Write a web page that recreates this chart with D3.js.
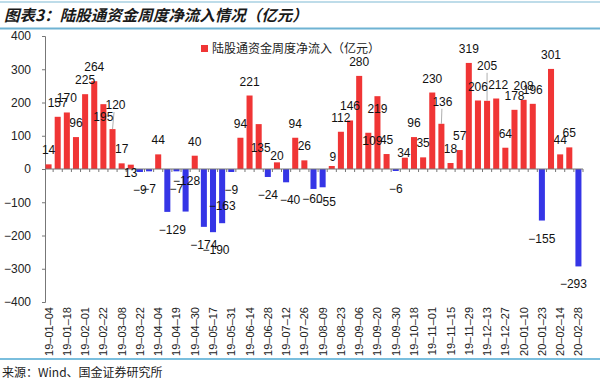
<!DOCTYPE html>
<html>
<head>
<meta charset="utf-8">
<script src="https://cdn.jsdelivr.net/npm/d3@7"></script>
<style>
  body { margin: 0; background: #fff; }
  svg { display: block; }
</style>
</head>
<body>
<svg width="600" height="385"></svg>
<script>
// weekly dates (holiday weeks skipped, as in the source)
const weeks = [
  '19-01-04', '19-01-11', '19-01-18', '19-01-25', '19-02-01', '19-02-15', '19-02-22', '19-03-01',
  '19-03-08', '19-03-15', '19-03-22', '19-03-29', '19-04-04', '19-04-12', '19-04-19', '19-04-26',
  '19-04-30', '19-05-10', '19-05-17', '19-05-24', '19-05-31', '19-06-06', '19-06-14', '19-06-21',
  '19-06-28', '19-07-05', '19-07-12', '19-07-19', '19-07-26', '19-08-02', '19-08-09', '19-08-16',
  '19-08-23', '19-08-30', '19-09-06', '19-09-12', '19-09-20', '19-09-27', '19-09-30', '19-10-11',
  '19-10-18', '19-10-25', '19-11-01', '19-11-08', '19-11-15', '19-11-22', '19-11-29', '19-12-06',
  '19-12-13', '19-12-20', '19-12-27', '20-01-03', '20-01-10', '20-01-17', '20-01-23', '20-02-07',
  '20-02-14', '20-02-21', '20-02-28'
];

// 陆股通资金周度净流入（亿元）
const netFlow = [
  14, 157, 170, 96, 225, 264, 195, 120,
  17, 13, -9, -7, 44, -129, -7, -128,
  40, -174, -190, -163, -9, 94, 221, 135,
  -24, 20, -40, 94, 26, -60, -55, 9,
  112, 146, 280, 109, 219, 45, -6, 34,
  96, 35, 230, 136, 18, 57, 319, 206,
  205, 212, 64, 178, 208, 196, -155, 301,
  44, 65, -293
];

const yTicks = [-400, -300, -200, -100, 0, 100, 200, 300, 400];

const title = '图表3：陆股通资金周度净流入情况（亿元）';
const legendLabel = '陆股通资金周度净流入（亿元）';
const source = '来源：Wind、国金证券研究所';

// hand-placed data labels in the original: [dx, dy] nudges
const labelNudge = {
  '19-02-22': [0, 27], '19-03-01': [3, -10], '19-03-15': [0, 22],
  '19-04-12': [5, 0], '19-04-26': [1, -49], '19-05-17': [3, 0], '19-05-24': [0, -35],
  '19-06-21': [2, 38], '19-07-05': [0, 8], '19-07-12': [4, 0], '19-08-02': [-1, -8],
  '19-08-09': [3, -3], '19-08-16': [1, 5], '19-09-12': [4, 22], '19-09-20': [0, 27],
  '19-10-11': [-1, 9], '19-11-08': [1, -8], '19-12-13': [0, -21], '19-12-20': [2, 0],
  '20-02-28': [-5, 0]
};
const leaderWeeks = ['19-03-01', '19-11-08', '19-12-13'];

const data = weeks.map((w, i) => ({ week: w, value: netFlow[i] }));

const svg = d3.select('svg');
const latin = "'Liberation Sans', Arial, sans-serif";
const cjk = "'Noto Sans CJK SC', sans-serif";

// frame lines and title
svg.append('line')
  .attr('x1', 0).attr('x2', 600).attr('y1', 2).attr('y2', 2)
  .style('stroke', '#a9d0e2').style('stroke-width', 1.5);
svg.append('line')
  .attr('x1', 0).attr('x2', 600).attr('y1', 28.5).attr('y2', 28.5)
  .style('stroke', '#6fb3d3').style('stroke-width', 2);
svg.append('line')
  .attr('x1', 0).attr('x2', 600).attr('y1', 359).attr('y2', 359)
  .style('stroke', '#4ea9d2').style('stroke-width', 1.5);

svg.append('text')
  .attr('x', 4).attr('y', 21)
  .style('font-family', cjk)
  .style('font-size', '15.5px')
  .style('font-weight', 'bold')
  .style('font-style', 'italic')
  .style('fill', '#1a1a1a')
  .text(title);

svg.append('text')
  .attr('x', 2).attr('y', 377)
  .style('font-family', cjk)
  .style('font-size', '12px')
  .style('fill', '#222')
  .text(source);

const xScale = d3
  .scaleBand()
  .domain(weeks)
  .range([44, 583])
  .paddingInner(0.34)
  .paddingOuter(0.17);

const yScale = d3
  .scaleLinear()
  .domain([-400, 400])
  .range([302, 36]);

// y axis
const yAxis = d3
  .axisLeft()
  .scale(yScale)
  .tickValues(yTicks)
  .tickSize(3)
  .tickPadding(11)
  .tickFormat(d3.format('d'));

const yAxisG = svg.append('g')
  .attr('id', 'yAxisG')
  .attr('transform', 'translate(45,0)')
  .call(yAxis);
yAxisG.select('.domain').style('stroke', '#777');
yAxisG.selectAll('line').style('stroke', '#777');
yAxisG.selectAll('text')
  .style('font-family', latin)
  .style('font-size', '12px')
  .style('fill', '#222');

// bars
svg.selectAll('rect.bar')
  .data(data)
  .enter()
  .append('rect')
  .attr('class', 'bar')
  .attr('x', d => xScale(d.week))
  .attr('width', xScale.bandwidth())
  .attr('y', d => yScale(Math.max(0, d.value)))
  .attr('height', d => Math.abs(yScale(d.value) - yScale(0)))
  .style('fill', d => (d.value >= 0 ? '#f03535' : '#3535e6'));

// x axis line at zero, with ticks between categories
const x0 = yScale(0);
const gapHalf = xScale.step() * xScale.paddingInner() / 2;
svg.append('line')
  .attr('x1', 45).attr('x2', 583).attr('y1', x0).attr('y2', x0)
  .style('stroke', '#777');
svg.selectAll('line.xtick')
  .data(weeks)
  .enter()
  .append('line')
  .attr('class', 'xtick')
  .attr('x1', d => xScale(d) + xScale.bandwidth() + gapHalf)
  .attr('x2', d => xScale(d) + xScale.bandwidth() + gapHalf)
  .attr('y1', x0)
  .attr('y2', x0 + 3)
  .style('stroke', '#777');

// x tick labels at the bottom, every second week
svg.selectAll('text.xlab')
  .data(weeks.filter((d, i) => i % 2 === 0))
  .enter()
  .append('text')
  .attr('class', 'xlab')
  .attr('transform', d => 'translate(' + (xScale(d) + xScale.bandwidth() / 2 + 4) + ',307) rotate(-90)')
  .attr('text-anchor', 'end')
  .style('font-family', latin)
  .style('font-size', '11px')
  .style('fill', '#222')
  .text(d => d.replace(/-/g, '–'));

// data labels
const cx = d => xScale(d.week) + xScale.bandwidth() / 2;
const nudge = d => labelNudge[d.week] || [0, 0];
const labelY = d => (d.value >= 0 ? yScale(d.value) - 10 : yScale(d.value) + 22) + nudge(d)[1];

svg.selectAll('line.leader')
  .data(data.filter(d => leaderWeeks.includes(d.week)))
  .enter()
  .append('line')
  .attr('class', 'leader')
  .attr('x1', d => cx(d) + nudge(d)[0] * 0.5)
  .attr('x2', cx)
  .attr('y1', d => labelY(d) + 3)
  .attr('y2', d => yScale(d.value))
  .style('stroke', '#999')
  .style('stroke-width', 0.8);

svg.selectAll('text.val')
  .data(data)
  .enter()
  .append('text')
  .attr('class', 'val')
  .attr('x', d => cx(d) + nudge(d)[0])
  .attr('y', labelY)
  .attr('text-anchor', 'middle')
  .style('font-family', latin)
  .style('font-size', '12px')
  .style('fill', '#111')
  .text(d => d3.format('d')(d.value));

// legend
const legend = svg.append('g').attr('transform', 'translate(201,45)');
legend.append('rect')
  .attr('width', 7).attr('height', 7)
  .style('fill', '#f03535');
legend.append('text')
  .attr('x', 11).attr('y', 8)
  .style('font-family', cjk)
  .style('font-size', '12px')
  .style('fill', '#222')
  .text(legendLabel);
</script>
</body>
</html>
